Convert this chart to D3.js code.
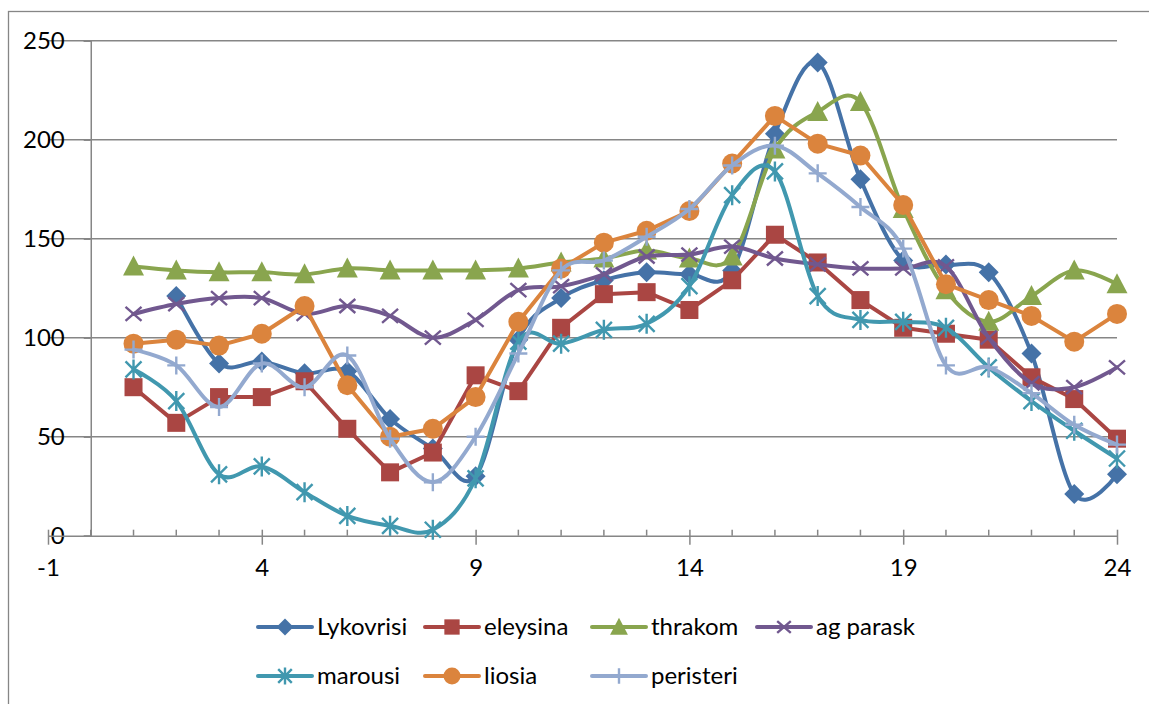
<!DOCTYPE html>
<html>
<head>
<meta charset="utf-8">
<script src="https://cdn.jsdelivr.net/npm/d3@7"></script>
<style>
  body { margin: 0; background: #fff; }
  svg { display: block; }
  text { font-family: Lato, "Open Sans", sans-serif; fill: #000; }
</style>
</head>
<body>
<svg id="chart" width="1149" height="704"></svg>
<script>
// Hourly readings per station
const hours = [1, 2, 3, 4, 5, 6, 7, 8, 9, 10, 11, 12, 13, 14, 15, 16, 17, 18, 19, 20, 21, 22, 23, 24];
const lykovrisi = [null, 121, 87, 88, 82, 83, 59, 44, 30, 99, 120, 129, 133, 132, 134, 203, 239, 180, 139, 137, 133, 92, 21, 31];
const eleysina  = [75, 57, 70, 70, 78, 54, 32, 42, 81, 73, 105, 122, 123, 114, 129, 152, 138, 119, 105, 102, 99, 80, 69, 49];
const thrakom   = [136, 134, 133, 133, 132, 135, 134, 134, 134, 135, 138, 140, 144, 140, 141, 195, 214, 219, 165, 124, 108, 121, 134, 127];
const agParask  = [112, 117, 120, 120, 112, 116, 111, 100, 109, 124, 126, 132, 141, 142, 146, 140, 137, 135, 135, 136, 100, 77, 75, 85];
const marousi   = [84, 68, 31, 35, 22, 10, 5, 3, 29, 98, 97, 104, 107, 126, 172, 184, 121, 109, 108, 105, 85, 68, 53, 39];
const liosia    = [97, 99, 96, 102, 116, 76, 50, 54, 70, 108, 135, 148, 154, 164, 188, 212, 198, 192, 167, 127, 119, 111, 98, 112];
const peristeri = [94, 86, 65, 87, 75, 91, 49, 27, 50, 92, 134, 139, 151, 165, 187, 197, 183, 166, 145, 86, 85, 72, 56, 46];

const seriesNames   = ["Lykovrisi", "eleysina", "thrakom", "ag parask", "marousi", "liosia", "peristeri"];
const seriesValues  = [lykovrisi, eleysina, thrakom, agParask, marousi, liosia, peristeri];
const seriesColors  = ["#4572A7", "#AA4643", "#89A54E", "#71588F", "#4198AF", "#DB843D", "#93A9CF"];
const seriesMarkers = ["diamond", "square", "triangle", "cross", "star", "circle", "plus"];
const seriesSmooth  = [true, false, true, true, true, false, true];

const yTicks = [0, 50, 100, 150, 200, 250];
const xTicks = [-1, 4, 9, 14, 19, 24];
const xMinorTicks = [0, 1, 2, 3, 5, 6, 7, 8, 10, 11, 12, 13, 15, 16, 17, 18, 20, 21, 22, 23];

const svg = d3.select("#chart");
const axisColor = "#868686";
const fontStack = "Lato, 'Open Sans', sans-serif";

const x = d3.scaleLinear().domain([-1, 24]).range([48, 1117]);
const y = d3.scaleLinear().domain([0, 250]).range([535.7, 40.7]);

// outer chart frame
svg.append("rect")
  .attr("x", 8.5).attr("y", 11.5)
  .attr("width", 1300).attr("height", 900)
  .attr("fill", "none").attr("stroke", axisColor).attr("stroke-width", 1.3);

// horizontal gridlines
svg.append("g").selectAll("line")
  .data(yTicks.filter(d => d > 0))
  .join("line")
  .attr("x1", x(-1)).attr("x2", x(24))
  .attr("y1", d => y(d)).attr("y2", d => y(d))
  .attr("stroke", axisColor).attr("stroke-width", 1.5);

// value axis sits at x = 0
const yAxis = d3.axisLeft(y).tickValues(yTicks).tickSize(7).tickPadding(19)
  .tickFormat(d => String(d));
const gy = svg.append("g").attr("transform", `translate(${x(0)},0)`).call(yAxis);
gy.select(".domain").attr("stroke", axisColor).attr("stroke-width", 1.5);
gy.selectAll(".tick line").attr("stroke", axisColor).attr("stroke-width", 1.5);
gy.selectAll(".tick text").attr("font-size", 24).attr("fill", "#000")
  .style("font-family", fontStack);

// category axis at y = 0
const xAxis = d3.axisBottom(x).tickValues(xTicks).tickSizeInner(9).tickSizeOuter(0).tickPadding(14)
  .tickFormat(d => String(d));
const gx = svg.append("g").attr("transform", `translate(0,${y(0)})`).call(xAxis);
gx.select(".domain").attr("stroke", axisColor).attr("stroke-width", 1.5);
gx.selectAll(".tick line").attr("stroke", axisColor).attr("stroke-width", 1.5).attr("y1", -6);
gx.selectAll(".tick text").attr("font-size", 24).attr("fill", "#000")
  .style("font-family", fontStack);

svg.append("g").selectAll("line")
  .data(xMinorTicks)
  .join("line")
  .attr("x1", d => x(d)).attr("x2", d => x(d))
  .attr("y1", y(0) - 6).attr("y2", y(0))
  .attr("stroke", axisColor).attr("stroke-width", 1.5);

// marker shapes, scaled by k
function drawMarker(g, type, color, cx, cy, k) {
  const m = g.append("g").attr("transform", `translate(${cx},${cy}) scale(${k})`);
  const sw = 2.4 / k;
  if (type === "diamond") {
    m.append("path").attr("d", "M0,-10L10,0L0,10L-10,0Z").attr("fill", color);
  } else if (type === "square") {
    m.append("rect").attr("x", -9).attr("y", -9).attr("width", 18).attr("height", 18).attr("fill", color);
  } else if (type === "triangle") {
    m.append("path").attr("d", "M0,-11L10.5,9L-10.5,9Z").attr("fill", color);
  } else if (type === "circle") {
    m.append("circle").attr("r", 10).attr("fill", color);
  } else if (type === "cross") {
    m.append("path").attr("d", "M-8,-7L8,7M-8,7L8,-7")
      .attr("stroke", color).attr("stroke-width", sw).attr("fill", "none");
  } else if (type === "star") {
    m.append("path").attr("d", "M-8,-8L8,8M-8,8L8,-8M0,-10L0,10")
      .attr("stroke", color).attr("stroke-width", sw).attr("fill", "none");
  } else if (type === "plus") {
    m.append("path").attr("d", "M0,-9L0,9M-9,0L9,0")
      .attr("stroke", color).attr("stroke-width", sw).attr("fill", "none");
  }
}

// series lines and markers
seriesNames.forEach((name, i) => {
  const pts = hours.map((h, j) => ({ h, v: seriesValues[i][j] })).filter(p => p.v !== null);
  const line = d3.line()
    .x(p => x(p.h)).y(p => y(p.v))
    .curve(seriesSmooth[i] ? d3.curveCardinal.tension(0) : d3.curveLinear);
  const g = svg.append("g");
  g.append("path").datum(pts).attr("d", line)
    .attr("fill", "none").attr("stroke", seriesColors[i]).attr("stroke-width", 4)
    .attr("stroke-linejoin", "round").attr("stroke-linecap", "round");
  pts.forEach(p => drawMarker(g, seriesMarkers[i], seriesColors[i], x(p.h), y(p.v), 1));
});

// legend
const legendCols = [258, 425, 592, 757];
const legendRows = [627, 676];
seriesNames.forEach((name, i) => {
  const lx = legendCols[i % 4];
  const ly = legendRows[Math.floor(i / 4)];
  const g = svg.append("g");
  g.append("line").attr("x1", lx).attr("x2", lx + 54).attr("y1", ly).attr("y2", ly)
    .attr("stroke", seriesColors[i]).attr("stroke-width", 4).attr("stroke-linecap", "round");
  drawMarker(g, seriesMarkers[i], seriesColors[i], lx + 27, ly, 0.85);
  g.append("text").attr("x", lx + 59).attr("y", ly).attr("dy", "0.35em")
    .attr("font-size", 24).text(name);
});
</script>
</body>
</html>
